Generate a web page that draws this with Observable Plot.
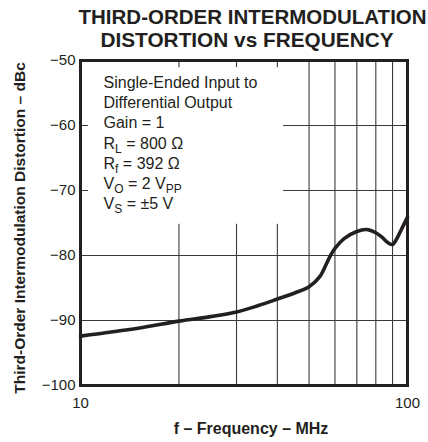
<!DOCTYPE html>
<html>
<head>
<meta charset="utf-8">
<script src="https://cdn.jsdelivr.net/npm/d3@7"></script>
<script src="https://cdn.jsdelivr.net/npm/@observablehq/plot@0.6"></script>
<style>
  html, body { margin: 0; padding: 0; background: white; overflow: hidden; }
</style>
</head>
<body>
<div id="chart"></div>
<script>
// ---- data ----
const titleLines = ["THIRD-ORDER INTERMODULATION", "DISTORTION vs FREQUENCY"];
const yLabel = "Third-Order Intermodulation Distortion – dBc";
const xLabel = "f – Frequency – MHz";

const freqMHz = [10, 15, 20, 25, 30, 35, 40, 45, 50, 54, 56, 58, 60, 64, 70, 75, 80, 84, 87, 90, 93, 96, 100];
const imdDbc  = [-92.4, -91.2, -90.1, -89.4, -88.7, -87.7, -86.7, -85.8, -84.8, -83.2, -81.7, -80.1, -78.9, -77.4, -76.3, -76.0, -76.5, -77.3, -78.0, -78.3, -77.3, -75.9, -74.1];

const xTicks = [10, 100];
const xGrid = [20, 30, 40, 50, 60, 70, 80, 90];
const yTicks = [-50, -60, -70, -80, -90, -100];
const yGrid = [-60, -70, -80, -90];

const noteLines = [
  "Single-Ended Input to",
  "Differential Output",
  "Gain = 1",
  "R_{L} = 800 Ω",
  "R_{f} = 392 Ω",
  "V_{O} = 2 V_{PP}",
  "V_{S} = ±5 V"
];

// ---- chart ----
const ink = "#231f20";
const data = freqMHz.map((f, i) => ({f, v: imdDbc[i]}));
// annotation box (data units) that masks the grid behind the notes
const noteBox = {x1: 10.58, x2: 41.8, y1: -75.2, y2: -51.1};

const marks = [
  Plot.ruleX(xGrid, {x: d => d, stroke: "#3a3a3a", strokeWidth: 1.1}),
  Plot.ruleY(yGrid, {y: d => d, stroke: "#3a3a3a", strokeWidth: 1.1}),
  Plot.rect([noteBox], {x1: "x1", x2: "x2", y1: "y1", y2: "y2", fill: "white"}),
  Plot.line(data, {x: "f", y: "v", stroke: ink, strokeWidth: 3.6, curve: "catmull-rom", strokeLinejoin: "round", strokeLinecap: "round"}),
  Plot.frame({stroke: ink, strokeWidth: 3}),
  Plot.text([titleLines[0]], {text: d => d, frameAnchor: "top-left", dx: -2, dy: -43, textAnchor: "start", lineAnchor: "middle", fontSize: 20.5, fontWeight: "bold", fill: ink}),
  Plot.text([titleLines[1]], {text: d => d, frameAnchor: "top", dx: 3, dy: -20, lineAnchor: "middle", fontSize: 20.8, fontWeight: "bold", fill: ink}),
  Plot.text([yLabel], {text: d => d, frameAnchor: "left", dx: -60, dy: 5, rotate: -90, textAnchor: "middle", lineAnchor: "middle", fontSize: 15.5, fontWeight: "bold", fill: ink}),
  Plot.text([xLabel], {text: d => d, frameAnchor: "bottom", dx: 7, dy: 43, lineAnchor: "middle", fontSize: 16, fontWeight: "bold", fill: ink}),
  ...noteLines.map((t, i) => Plot.text([t], {text: d => d, frameAnchor: "top-left", dx: 23, dy: 22 + i * 20.3, textAnchor: "start", lineAnchor: "middle", fontSize: 16, fill: ink}))
];

const plot = Plot.plot({
  width: 428,
  height: 442,
  marginLeft: 80,
  marginRight: 21,
  marginTop: 60,
  marginBottom: 57,
  style: {fontFamily: "'Liberation Sans', Arial, Helvetica, sans-serif", fontSize: "15px", color: ink, background: "white"},
  x: {type: "log", domain: [10, 100], ticks: xTicks, tickFormat: d => String(d), tickSize: 0, tickPadding: 12, label: null},
  y: {domain: [-100, -50], ticks: yTicks, tickSize: 0, tickPadding: 5, label: null},
  marks
});

// subscripts: turn "_{..}" into lowered, smaller tspans
plot.querySelectorAll("text").forEach(t => {
  const s = t.textContent;
  if (!s.includes("_{")) return;
  const parts = s.split(/_\{([^}]*)\}/);
  while (t.firstChild) t.removeChild(t.firstChild);
  const NS = "http://www.w3.org/2000/svg";
  let lowered = false;
  parts.forEach((p, i) => {
    if (p === "") return;
    const ts = document.createElementNS(NS, "tspan");
    ts.textContent = p;
    if (i % 2 === 1) {
      ts.setAttribute("font-size", "12");
      if (!lowered) { ts.setAttribute("dy", "4"); lowered = true; }
    } else if (lowered) {
      ts.setAttribute("dy", "-4"); lowered = false;
    }
    t.appendChild(ts);
  });
});

document.getElementById("chart").appendChild(plot);
</script>
</body>
</html>
